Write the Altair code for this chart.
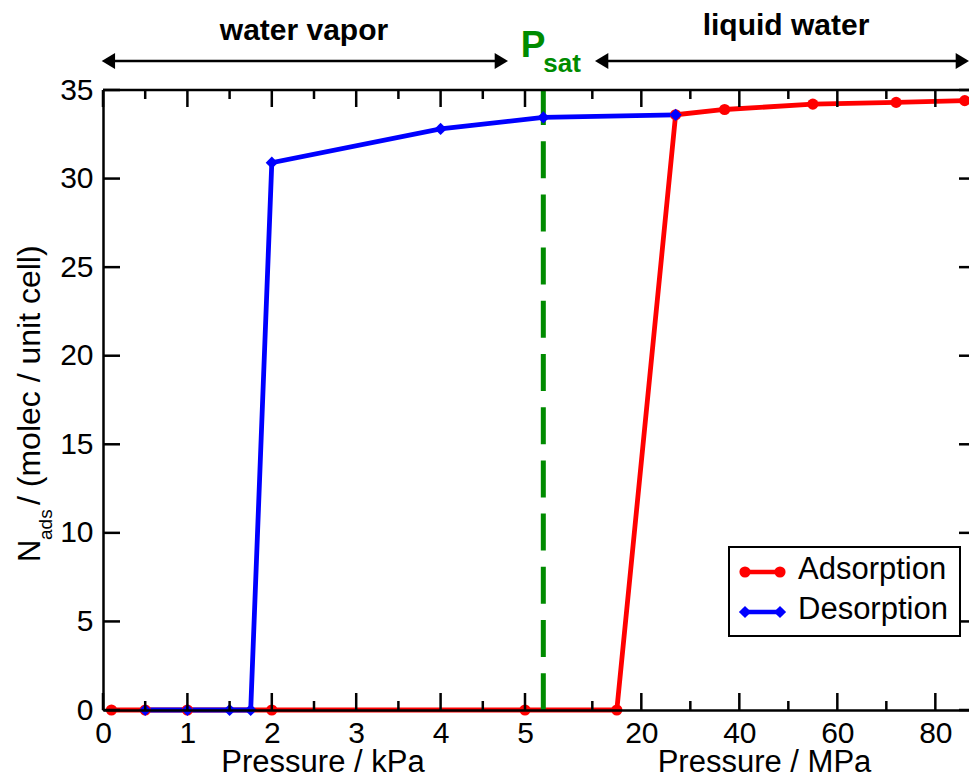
import altair as alt
import pandas as pd

# ---------------- data ----------------
series_names = ["Adsorption", "Desorption"]
series_colors = ["#ff0000", "#0000ff"]
series_shapes = ["circle", "diamond"]
series_sizes = [125, 150]

# adsorption branch: vapour part (kPa) and liquid part (MPa)
ads_kpa = [0.1, 0.5, 1.0, 2.0, 5.0]
ads_kpa_n = [0.0, 0.0, 0.0, 0.0, 0.0]
ads_mpa = [15, 27, 37, 55, 72, 86]
ads_mpa_n = [0.0, 33.6, 33.9, 34.2, 34.3, 34.4]

# desorption branch
des_kpa = [0.5, 1.0, 1.5, 1.75, 2.0, 4.0]
des_kpa_n = [0.0, 0.0, 0.0, 0.0, 30.9, 32.8]
des_mpa = [0.0, 27]
des_mpa_n = [33.45, 33.6]

# axis ticks
kpa_major = [0, 1, 2, 3, 4, 5]
kpa_minor = [0.5, 1.5, 2.5, 3.5, 4.5]
mpa_major = [20, 40, 60, 80]
mpa_minor = [10, 30, 50, 70]
y_major = [0, 5, 10, 15, 20, 25, 30, 35]

# composite pressure axis: kPa part up to Psat, then MPa part
PSAT_U = 5.217      # Psat position in kPa units
MPA_U = 0.05806     # width of 1 MPa in kPa units
W, H = 866, 620
X_MAX = W / 84.4
Y_MAX = 35

GREEN = "#008b00"
FONT = "Liberation Sans"


def u_kpa(v):
    return v


def u_mpa(v):
    return PSAT_U + v * MPA_U


rows = []
for k, n in zip(ads_kpa, ads_kpa_n):
    rows.append({"series": "Adsorption", "u": u_kpa(k), "n": n})
for m, n in zip(ads_mpa, ads_mpa_n):
    rows.append({"series": "Adsorption", "u": u_mpa(m), "n": n})
for k, n in zip(des_kpa, des_kpa_n):
    rows.append({"series": "Desorption", "u": u_kpa(k), "n": n})
for m, n in zip(des_mpa, des_mpa_n):
    rows.append({"series": "Desorption", "u": u_mpa(m), "n": n})
df = pd.DataFrame(rows)

xmaj = pd.DataFrame({"u": [u_kpa(v) for v in kpa_major] + [u_mpa(v) for v in mpa_major]})
xmin = pd.DataFrame({"u": [u_kpa(v) for v in kpa_minor] + [u_mpa(v) for v in mpa_minor]})
ymaj = pd.DataFrame({"v": y_major})
psat_df = pd.DataFrame({"u": [PSAT_U]})

x_label_values = [u_kpa(v) for v in kpa_major] + [u_mpa(v) for v in mpa_major]
label_expr = (
    f"datum.value < {PSAT_U} ? format(datum.value, 'd') : "
    f"format(round((datum.value - {PSAT_U}) / {MPA_U}), 'd')"
)

xscale = alt.Scale(domain=[0, X_MAX], nice=False, zero=False)
yscale = alt.Scale(domain=[0, Y_MAX], nice=False)
cscale = alt.Scale(domain=series_names, range=series_colors)
sscale = alt.Scale(domain=series_names, range=series_shapes)

xaxis = alt.Axis(values=x_label_values, labelExpr=label_expr, tickSize=0, domainWidth=2.5,
                 domainColor="black", labelFontSize=30, labelColor="black", labelPadding=8,
                 labelFlush=False, labelOverlap=False, grid=False, title=None, zindex=1)
yaxis = alt.Axis(values=y_major, tickSize=0, domainWidth=2.5, domainColor="black",
                 labelFontSize=30, labelColor="black", labelPadding=10, labelFlush=False,
                 grid=False, title=None, zindex=1)

base = alt.Chart(df)

lines = base.mark_line(strokeWidth=4.8).encode(
    x=alt.X("u:Q", scale=xscale, axis=xaxis),
    y=alt.Y("n:Q", scale=yscale, axis=yaxis),
    color=alt.Color("series:N", scale=cscale, legend=None),
    order=alt.Order("u:Q"),
)
ads_line = lines.transform_filter(alt.datum.series == "Adsorption")
des_line = lines.transform_filter(alt.datum.series == "Desorption")

pts = base.mark_point(filled=True, opacity=1, strokeWidth=0).encode(
    x="u:Q", y="n:Q",
    color=alt.Color("series:N", scale=cscale, legend=None),
    shape=alt.Shape("series:N", scale=sscale, legend=None),
    size=alt.Size("series:N", scale=alt.Scale(domain=series_names, range=series_sizes), legend=None),
)
ads_pts = pts.transform_filter(alt.datum.series == "Adsorption")
des_pts = pts.transform_filter(alt.datum.series == "Desorption")

psat_line = alt.Chart(psat_df).mark_rule(
    color=GREEN, strokeWidth=5, strokeDash=[37, 16.2], strokeDashOffset=2
).encode(x="u:Q", y=alt.value(0), y2=alt.value(H))

# ---------- inward ticks / frame ----------
tick_col = "black"
tw = 2.5
bot_major = alt.Chart(xmaj).mark_rule(color=tick_col, strokeWidth=tw).encode(
    x="u:Q", y=alt.value(H), y2=alt.value(H - 17))
bot_minor = alt.Chart(xmin).mark_rule(color=tick_col, strokeWidth=tw).encode(
    x="u:Q", y=alt.value(H), y2=alt.value(H - 9))
top_major = alt.Chart(xmaj).mark_rule(color=tick_col, strokeWidth=tw).encode(
    x="u:Q", y=alt.value(0), y2=alt.value(17))
top_minor = alt.Chart(xmin).mark_rule(color=tick_col, strokeWidth=tw).encode(
    x="u:Q", y=alt.value(0), y2=alt.value(9))
left_ticks = alt.Chart(ymaj).mark_rule(color=tick_col, strokeWidth=tw).encode(
    y="v:Q", x=alt.value(0), x2=alt.value(17))
right_ticks = alt.Chart(ymaj).mark_rule(color=tick_col, strokeWidth=tw).encode(
    y="v:Q", x=alt.value(W - 10), x2=alt.value(W))
one = alt.Data(values=[{"a": 1}])
top_frame = alt.Chart(one).mark_rule(color=tick_col, strokeWidth=tw).encode(
    x=alt.value(0), x2=alt.value(W), y=alt.value(0))


def text_layer(txt, x, y, size, bold=False, color="black", align="left", angle=None):
    props = dict(fontSize=size, color=color, align=align, baseline="alphabetic", font=FONT)
    if bold:
        props["fontWeight"] = "bold"
    if angle is not None:
        props["angle"] = angle
    return alt.Chart(alt.Data(values=[{"t": txt}])).mark_text(**props).encode(
        text="t:N", x=alt.value(x), y=alt.value(y))


def arrow_head(x, y, direction):
    path = "M0,0L2,-1.2L2,1.2Z" if direction == "left" else "M0,0L-2,-1.2L-2,1.2Z"
    return alt.Chart(one).mark_point(shape=path, filled=True, color="black", opacity=1,
                                     strokeWidth=0, size=178).encode(
        x=alt.value(x), y=alt.value(y))


ay = -29
arrows = [
    alt.Chart(one).mark_rule(color="black", strokeWidth=2.5).encode(
        x=alt.value(4), x2=alt.value(398), y=alt.value(ay)),
    arrow_head(-1.3, ay, "left"),
    arrow_head(405, ay, "right"),
    alt.Chart(one).mark_rule(color="black", strokeWidth=2.5).encode(
        x=alt.value(498), x2=alt.value(W - 8), y=alt.value(ay)),
    arrow_head(492, ay, "left"),
    arrow_head(W, ay, "right"),
]

annotations = [
    text_layer("water vapor", 201, -50, 30, bold=True, align="center"),
    text_layer("liquid water", 683, -55, 30, bold=True, align="center"),
    text_layer("P", 417.7, -33.3, 37, bold=True, color=GREEN),
    text_layer("sat", 440.3, -18.3, 26, bold=True, color=GREEN),
    text_layer("Pressure / kPa", 220, 682, 31, align="center"),
    text_layer("Pressure / MPa", 661.5, 682, 31, align="center"),
    # rotated y title: N_ads / (molec / unit cell)
    text_layer("N", -63, 472, 31, angle=270),
    text_layer("ads", -51.5, 450, 19, angle=270),
    text_layer("/ (molec / unit cell)", -63, 415, 32, angle=270),
]

# ---------- legend ----------
legend_layers = [
    alt.Chart(one).mark_rect(fill="white", stroke="black", strokeWidth=2).encode(
        x=alt.value(626), x2=alt.value(857), y=alt.value(457), y2=alt.value(546)),
]
for name, col, shp, sz, ly in zip(series_names, series_colors, series_shapes, series_sizes, [482, 522]):
    legend_layers.append(alt.Chart(one).mark_rule(color=col, strokeWidth=4.5).encode(
        x=alt.value(642), x2=alt.value(677), y=alt.value(ly)))
    for lx in (642, 677):
        legend_layers.append(alt.Chart(one).mark_point(shape=shp, filled=True, color=col, opacity=1,
                                                       strokeWidth=0, size=sz).encode(
            x=alt.value(lx), y=alt.value(ly)))
    legend_layers.append(text_layer(name, 695, ly + 7, 31))

chart = alt.layer(
    ads_line, des_line, psat_line, ads_pts, des_pts,
    bot_major, bot_minor, top_major, top_minor, left_ticks, right_ticks, top_frame,
    *arrows, *annotations, *legend_layers,
).properties(
    width=W, height=H,
    autosize=alt.AutoSizeParams(type="none"),
    padding={"left": 95, "top": 82, "right": 0, "bottom": 66},
    background="white",
).configure(font=FONT).configure_view(stroke=None)

chart.save("out.html", embed_options={"renderer": "svg", "actions": False})
